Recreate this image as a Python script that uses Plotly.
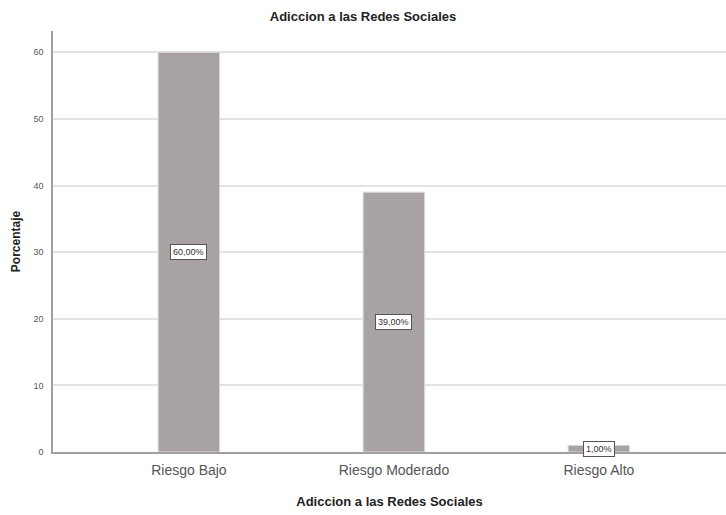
import plotly.graph_objects as go

categories = ["Riesgo Bajo", "Riesgo Moderado", "Riesgo Alto"]
percentages = [60.0, 39.0, 1.0]
y_ticks = [0, 10, 20, 30, 40, 50, 60]

fig = go.Figure()
fig.add_trace(go.Bar(
    x=categories,
    y=percentages,
    width=0.3,
    marker=dict(color="#a8a2a2", line=dict(color="#dcdada", width=1)),
    hoverinfo="skip",
))

for c, v in zip(categories, percentages):
    fig.add_annotation(
        x=c, y=v / 2, text=f"{v:.2f}%".replace(".", ","),
        showarrow=False, bgcolor="white", bordercolor="#555555", borderwidth=1,
        borderpad=2, font=dict(family="Liberation Sans, Arial", size=9, color="#333333"),
    )

fig.update_layout(
    width=726, height=515,
    margin=dict(l=53, r=0, t=31, b=63),
    paper_bgcolor="white", plot_bgcolor="white",
    showlegend=False,
    title=dict(text="<b>Adiccion a las Redes Sociales</b>", x=0.5, xanchor="center",
               y=1 - 16 / 515, yanchor="middle",
               font=dict(family="Liberation Sans, Arial", size=13, color="#222222")),
    font=dict(family="Liberation Sans, Arial"),
)
fig.update_xaxes(
    range=[-0.663, 2.62],
    showline=True, linecolor="#a0a0a0", linewidth=1.5,
    showgrid=False, ticks="", ticklabelstandoff=4,
    tickfont=dict(size=14, color="#555555"),
    title=dict(text="<b>Adiccion a las Redes Sociales</b>", standoff=20,
               font=dict(size=13, color="#222222")),
)
fig.update_yaxes(
    range=[0, 63.2],
    tickvals=y_ticks,
    showline=True, linecolor="#a0a0a0", linewidth=1.5,
    showgrid=True, gridcolor="#e3e3e3", gridwidth=1.5,
    zeroline=False, ticks="", ticklabelstandoff=6,
    tickfont=dict(size=9, color="#555555"),
    title=dict(text="<b>Porcentaje</b>", standoff=10,
               font=dict(size=12, color="#222222")),
)

fig.write_html("out.html")
